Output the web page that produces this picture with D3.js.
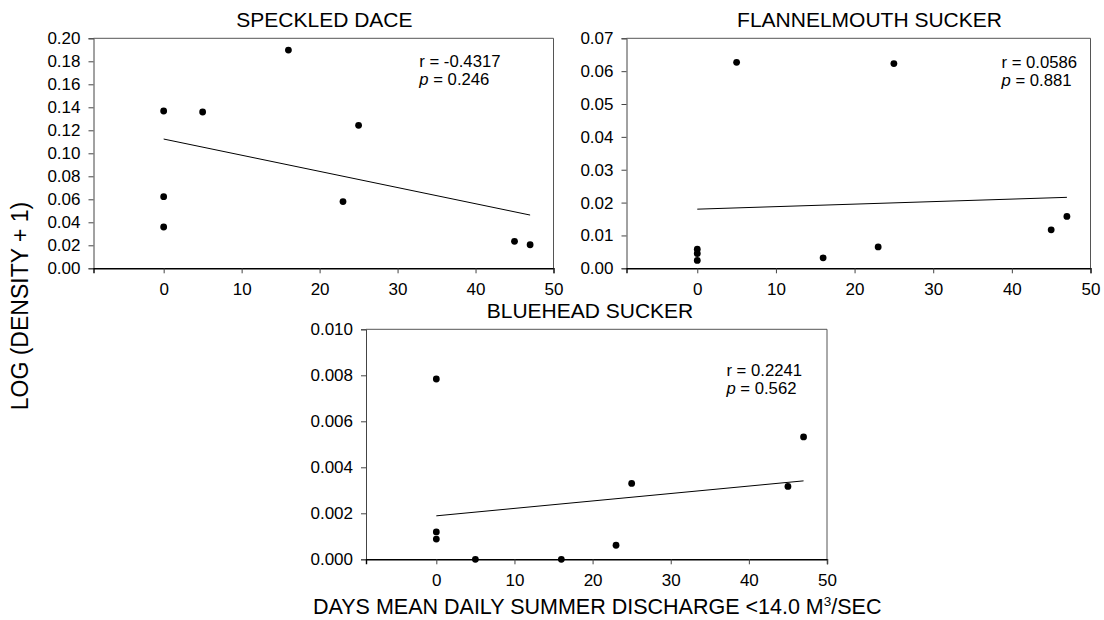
<!DOCTYPE html>
<html>
<head>
<meta charset="utf-8">
<script src="https://cdn.jsdelivr.net/npm/d3@7"></script>
<style>
  body { margin: 0; background: #fff; }
  svg { display: block; font-family: "Liberation Sans", Arial, sans-serif; }
</style>
</head>
<body>
<svg id="chart" width="1104" height="620"></svg>
<script>
// ---- data ----
const xTicks = [0, 10, 20, 30, 40, 50];
const days = [0, 0, 0, 5, 16, 23, 25, 45, 47];

const daceValues = [0.1368, 0.0623, 0.0359, 0.1359, 0.1898, 0.0580, 0.1243, 0.0235, 0.0205];
const flannelValues = [0.0058, 0.0045, 0.0024, 0.0627, 0.0032, 0.0065, 0.0623, 0.0117, 0.0158];
const blueheadValues = [0.00784, 0.00119, 0.00088, 0.0000, 0.0000, 0.00061, 0.00330, 0.00317, 0.00532];

const fitX = [0, 47];
const daceFit = [0.1124, 0.0463];
const flannelFit = [0.0180, 0.0216];
const blueheadFit = [0.00189, 0.00341];

const daceYTicks = [0, 0.02, 0.04, 0.06, 0.08, 0.10, 0.12, 0.14, 0.16, 0.18, 0.20];
const flannelYTicks = [0, 0.01, 0.02, 0.03, 0.04, 0.05, 0.06, 0.07];
const blueheadYTicks = [0, 0.002, 0.004, 0.006, 0.008, 0.010];

const titles = ["SPECKLED DACE", "FLANNELMOUTH SUCKER", "BLUEHEAD SUCKER"];
const rLabels = ["r = -0.4317", "r = 0.0586", "r = 0.2241"];
const pLabels = ["0.246", "0.881", "0.562"];

const yLabel = "LOG (DENSITY + 1)";
const xLabelMain = "DAYS MEAN DAILY SUMMER DISCHARGE <14.0 M";
const xLabelSup = "3";
const xLabelEnd = "/SEC";

// ---- layout ----
const svg = d3.select("#chart");
svg.append("rect").attr("width", 1104).attr("height", 620).attr("fill", "#fff");

const FONT = "Liberation Sans, Arial, sans-serif";

const panels = [
  { x: 93.5, y: 38.3, w: 460, h: 230, vals: daceValues, fit: daceFit, yTicks: daceYTicks, yMax: 0.20, fmt: ".2f",
    titleX: 324.4, titleY: 27.3, annX: 325.8, annY: 29 },
  { x: 626.5, y: 38.3, w: 464, h: 230, vals: flannelValues, fit: flannelFit, yTicks: flannelYTicks, yMax: 0.07, fmt: ".2f",
    titleX: 869.5, titleY: 27.3, annX: 375, annY: 30 },
  { x: 366, y: 329.3, w: 461, h: 230, vals: blueheadValues, fit: blueheadFit, yTicks: blueheadYTicks, yMax: 0.010, fmt: ".3f",
    titleX: 590, titleY: 317.5, annX: 360.4, annY: 46.7 }
];

panels.forEach((p, i) => {
  const g = svg.append("g").attr("transform", `translate(${p.x},${p.y})`);
  const x = d3.scaleLinear().domain([-9, 50]).range([0, p.w]);
  const y = d3.scaleLinear().domain([0, p.yMax]).range([p.h, 0]);

  // frame (top and right)
  g.append("path")
    .attr("d", `M0,0H${p.w}V${p.h}`)
    .attr("fill", "none").attr("stroke", "#555").attr("stroke-width", 1);

  // y axis
  const ya = g.append("g")
    .call(d3.axisLeft(y).tickValues(p.yTicks).tickFormat(d3.format(p.fmt)).tickSize(5).tickPadding(8));
  ya.selectAll("path, line").attr("stroke", "#444");
  ya.selectAll("text").attr("font-size", 17).attr("fill", "#000").attr("font-family", FONT);

  // x axis
  const xa = g.append("g").attr("transform", `translate(0,${p.h})`)
    .call(d3.axisBottom(x).tickValues(xTicks).tickFormat(d3.format("d")).tickSize(5).tickPadding(9.5));
  xa.select("path.domain").attr("stroke", "#000").attr("stroke-width", 1.4);
  xa.selectAll("line").attr("stroke", "#444");
  xa.selectAll("text").attr("font-size", 17).attr("fill", "#000").attr("font-family", FONT);

  // regression line
  g.append("line")
    .attr("x1", x(fitX[0])).attr("y1", y(p.fit[0]))
    .attr("x2", x(fitX[1])).attr("y2", y(p.fit[1]))
    .attr("stroke", "#000").attr("stroke-width", 1);

  // points
  g.selectAll("circle.pt").data(p.vals).enter().append("circle")
    .attr("class", "pt")
    .attr("cx", (d, j) => x(days[j]))
    .attr("cy", d => y(d))
    .attr("r", 3.4)
    .attr("fill", "#000");

  // annotation
  g.append("text").attr("x", p.annX).attr("y", p.annY)
    .attr("font-size", 16.7).text(rLabels[i]);
  const pt = g.append("text").attr("x", p.annX).attr("y", p.annY + 18).attr("font-size", 16.7);
  pt.append("tspan").attr("font-style", "italic").text("p");
  pt.append("tspan").text(" = " + pLabels[i]);

  // title
  svg.append("text").attr("x", p.titleX).attr("y", p.titleY)
    .attr("text-anchor", "middle").attr("font-size", 21).text(titles[i]);
});

// y label
svg.append("text")
  .attr("transform", "translate(28,306) rotate(-90)")
  .attr("text-anchor", "middle").attr("font-size", 23).text(yLabel);

// x label
const xl = svg.append("text").attr("x", 313).attr("y", 614).attr("font-size", 21.5);
xl.append("tspan").text(xLabelMain);
xl.append("tspan").attr("font-size", 13.5).attr("dy", -8.5).text(xLabelSup);
xl.append("tspan").attr("dy", 8.5).text(xLabelEnd);
</script>
</body>
</html>
